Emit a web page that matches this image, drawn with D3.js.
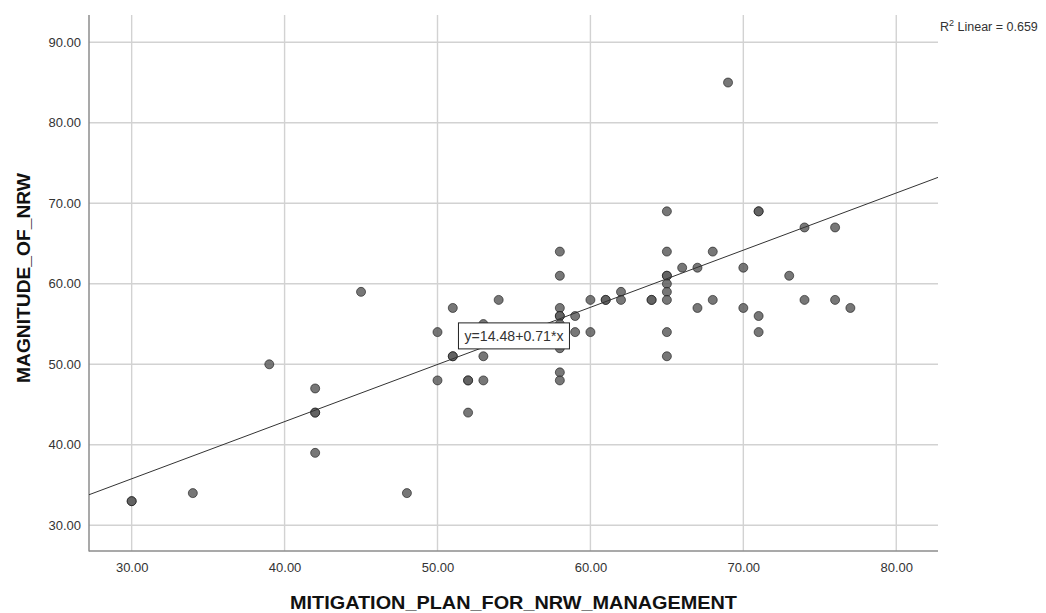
<!DOCTYPE html>
<html>
<head>
<meta charset="utf-8">
<script src="https://cdn.jsdelivr.net/npm/d3@7/dist/d3.min.js"></script>
<style>
  html, body { margin: 0; padding: 0; background: #fff; }
  svg { display: block; font-family: "Liberation Sans", Arial, sans-serif; }
</style>
</head>
<body>
<svg id="chart" width="1046" height="613"></svg>
<script>
// ---- data ----
const mitigationX = [30,30,34,39,42,42,42,42,45,48,50,50,51,51,51,52,52,52,53,53,53,54,
  58,58,58,58,58,58,58,58,58,58,59,59,60,60,61,61,62,62,64,64,
  65,65,65,65,65,65,65,65,65,66,67,67,68,68,69,70,70,71,71,71,71,73,74,74,76,76,77];
const magnitudeY = [33,33,34,50,47,44,44,39,59,34,54,48,57,51,51,48,48,44,55,51,48,58,
  64,61,57,56,56,55,53,52,49,48,56,54,58,54,58,58,59,58,58,58,
  69,64,61,61,60,59,58,54,51,62,62,57,64,58,85,62,57,69,69,56,54,61,67,58,67,58,57];
const xTicks = [30,40,50,60,70,80];
const yTicks = [30,40,50,60,70,80,90];
const fitIntercept = 14.48, fitSlope = 0.71;
const fitLabel = "y=14.48+0.71*x";
const r2Label = "0.659";
const xTitle = "MITIGATION_PLAN_FOR_NRW_MANAGEMENT";
const yTitle = "MAGNITUDE_OF_NRW";

// ---- layout ----
const svg = d3.select("#chart");
const L = 89, R = 938, T = 15, B = 551;
const x = d3.scaleLinear().domain([27.21, 82.73]).range([L, R]);
const y = d3.scaleLinear().domain([26.81, 93.39]).range([B, T]);

// gridlines
const grid = svg.append("g");
grid.selectAll("line.v").data(xTicks).join("line")
  .attr("x1", d => x(d)).attr("x2", d => x(d)).attr("y1", T).attr("y2", B)
  .attr("stroke", "#d2d2d2").attr("stroke-width", 1.4);
grid.selectAll("line.h").data(yTicks).join("line")
  .attr("y1", d => y(d)).attr("y2", d => y(d)).attr("x1", L).attr("x2", R)
  .attr("stroke", "#d2d2d2").attr("stroke-width", 1.4);

// axes
const xAxis = d3.axisBottom(x).tickValues(xTicks).tickFormat(d3.format(".2f")).tickSize(0).tickPadding(12);
const yAxis = d3.axisLeft(y).tickValues(yTicks).tickFormat(d3.format(".2f")).tickSize(0).tickPadding(8);
const gx = svg.append("g").attr("transform", `translate(0,${B})`).call(xAxis);
const gy = svg.append("g").attr("transform", `translate(${L},0)`).call(yAxis);
[gx, gy].forEach(g => {
  g.select(".domain").remove();
  g.selectAll("text").attr("font-size", 13).attr("fill", "#333")
    .attr("font-family", "'Liberation Sans', Arial, sans-serif");
});
svg.append("line").attr("x1", L).attr("x2", L).attr("y1", T).attr("y2", B + 0.5)
  .attr("stroke", "#8c8c8c").attr("stroke-width", 1.5);
svg.append("line").attr("x1", L).attr("x2", R).attr("y1", B).attr("y2", B)
  .attr("stroke", "#8c8c8c").attr("stroke-width", 1.5);

// points
const pts = mitigationX.map((v, i) => ({x: v, y: magnitudeY[i]}));
svg.append("g").selectAll("circle").data(pts).join("circle")
  .attr("cx", d => x(d.x)).attr("cy", d => y(d.y)).attr("r", 4.5)
  .attr("fill", "rgba(95,95,95,0.85)")
  .attr("stroke", "rgba(20,20,20,0.6)").attr("stroke-width", 1);

// fit line
const [x0, x1] = x.domain();
svg.append("line")
  .attr("x1", x(x0)).attr("y1", y(fitIntercept + fitSlope * x0))
  .attr("x2", x(x1)).attr("y2", y(fitIntercept + fitSlope * x1))
  .attr("stroke", "#333").attr("stroke-width", 1);

// fit label box
const lx = 55, ly = fitIntercept + fitSlope * lx;
const lbl = svg.append("g").attr("transform", `translate(${x(lx)},${y(ly)})`);
lbl.append("rect").attr("x", -55.5).attr("y", -13).attr("width", 111).attr("height", 26)
  .attr("fill", "#fff").attr("stroke", "#222").attr("stroke-width", 1);
lbl.append("text").attr("text-anchor", "middle").attr("y", 5)
  .attr("font-size", 14).attr("fill", "#333")
  .attr("textLength", 99).attr("lengthAdjust", "spacingAndGlyphs")
  .text(fitLabel);

// R2 label
const r2 = svg.append("text").attr("x", 940).attr("y", 31).attr("font-size", 12.5).attr("fill", "#333");
r2.append("tspan").text("R");
r2.append("tspan").attr("dy", -5).attr("font-size", 9).text("2");
r2.append("tspan").attr("dy", 5).text(" Linear = " + r2Label);

// axis titles
svg.append("text").attr("x", 513.5).attr("y", 609).attr("text-anchor", "middle")
  .attr("font-size", 19).attr("font-weight", "bold").attr("fill", "#111")
  .attr("textLength", 447).attr("lengthAdjust", "spacingAndGlyphs")
  .text(xTitle);
svg.append("text").attr("transform", "translate(30,278) rotate(-90)").attr("text-anchor", "middle")
  .attr("font-size", 19).attr("font-weight", "bold").attr("fill", "#111")
  .attr("textLength", 210).attr("lengthAdjust", "spacingAndGlyphs")
  .text(yTitle);
</script>
</body>
</html>
